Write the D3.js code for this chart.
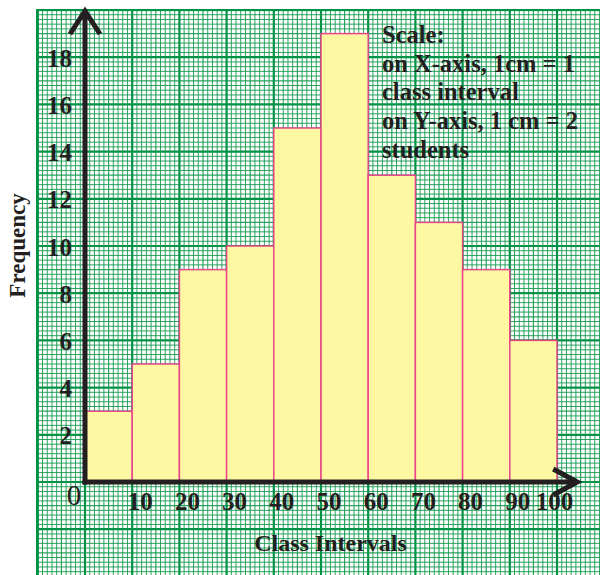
<!DOCTYPE html>
<html>
<head>
<meta charset="utf-8">
<script src="https://cdn.jsdelivr.net/npm/d3@7"></script>
<style>
  html, body { margin: 0; padding: 0; background: #ffffff; }
  svg { display: block; }
  text { font-family: "Liberation Serif", "Times New Roman", serif; fill: #231f20; }
</style>
</head>
<body>
<svg id="chart" width="600" height="575"></svg>
<script>
// ---- data ----
const classStarts = [0, 10, 20, 30, 40, 50, 60, 70, 80, 90];
const classWidth = 10;
const frequencies = [3, 5, 9, 10, 15, 19, 13, 11, 9, 6];
const xTickValues = [10, 20, 30, 40, 50, 60, 70, 80, 90, 100];
const yTickValues = [2, 4, 6, 8, 10, 12, 14, 16, 18];
const scaleNote = ["Scale:", "on X-axis, 1cm = 1", "class interval", "on Y-axis, 1 cm = 2", "students"];
const xTitle = "Class Intervals";
const yTitle = "Frequency";

// ---- setup ----
const svg = d3.select("#chart");
const x = d3.scaleLinear().domain([0, 100]).range([85, 557]);
const y = d3.scaleLinear().domain([0, 20]).range([482, 10]);

// ---- graph paper ----
const paper = { x0: 36, y0: 9, x1: 600, y1: 575 };
svg.append("clipPath").attr("id", "paperClip")
  .append("rect").attr("x", paper.x0).attr("y", paper.y0)
  .attr("width", paper.x1 - paper.x0).attr("height", paper.y1 - paper.y0);
const grid = svg.append("g").attr("clip-path", "url(#paperClip)");
grid.append("rect").attr("x", paper.x0).attr("y", paper.y0)
  .attr("width", paper.x1 - paper.x0).attr("height", paper.y1 - paper.y0).attr("fill", "#ffffff");

const minorX = d3.range(-10, 112, 1);
const minorY = d3.range(-25, 101, 1).map(i => i / 5);
grid.selectAll("line.mx").data(minorX.filter(v => v % 10 !== 0)).join("line")
  .attr("x1", d => x(d)).attr("x2", d => x(d)).attr("y1", paper.y0).attr("y2", paper.y1)
  .attr("stroke", "#159a4f").attr("stroke-width", d => (d % 5 === 0 ? 1.2 : 1.0)).attr("stroke-opacity", 0.9);
grid.selectAll("line.my").data(minorY.filter((v, i) => Math.round(v * 5) % 10 !== 0)).join("line")
  .attr("y1", d => y(d)).attr("y2", d => y(d)).attr("x1", paper.x0).attr("x2", paper.x1)
  .attr("stroke", "#159a4f").attr("stroke-width", d => (Math.round(d * 5) % 5 === 0 ? 1.2 : 1.0)).attr("stroke-opacity", 0.9);
grid.selectAll("line.MX").data(minorX.filter(v => v % 10 === 0)).join("line")
  .attr("x1", d => x(d)).attr("x2", d => x(d)).attr("y1", paper.y0).attr("y2", paper.y1)
  .attr("stroke", "#009245").attr("stroke-width", 2.2);
grid.selectAll("line.MY").data(minorY.filter(v => Math.round(v * 5) % 10 === 0)).join("line")
  .attr("y1", d => y(d)).attr("y2", d => y(d)).attr("x1", paper.x0).attr("x2", paper.x1)
  .attr("stroke", "#009245").attr("stroke-width", 2.2);
// border
grid.append("rect").attr("x", paper.x0 + 1).attr("y", paper.y0 + 1)
  .attr("width", paper.x1 - paper.x0 + 5).attr("height", paper.y1 - paper.y0 + 5)
  .attr("fill", "none").attr("stroke", "#009245").attr("stroke-width", 2.2);

// ---- histogram bars ----
svg.append("g").selectAll("rect").data(classStarts).join("rect")
  .attr("x", d => x(d)).attr("width", d => x(d + classWidth) - x(d))
  .attr("y", (d, i) => y(frequencies[i])).attr("height", (d, i) => y(0) - y(frequencies[i]))
  .attr("fill", "#fff8a2").attr("stroke", "#e8458b").attr("stroke-width", 1.5);

// ---- axes lines with arrows ----
const ink = "#231f20";
svg.append("line").attr("x1", x(0)).attr("x2", x(0)).attr("y1", y(0) + 2.5).attr("y2", y(20) + 3)
  .attr("stroke", ink).attr("stroke-width", 5);
svg.append("path").attr("d", `M${x(0) - 15},${y(20) + 24} L${x(0)},${y(20) + 1} L${x(0) + 15},${y(20) + 24}`)
  .attr("fill", "none").attr("stroke", ink).attr("stroke-width", 5).attr("stroke-linejoin", "miter");
svg.append("line").attr("x1", x(0) - 2.5).attr("x2", x(104.5) - 3).attr("y1", y(0)).attr("y2", y(0))
  .attr("stroke", ink).attr("stroke-width", 5);
svg.append("path").attr("d", `M${x(104.5) - 25},${y(0) - 13} L${x(104.5) - 1},${y(0)} L${x(104.5) - 25},${y(0) + 13}`)
  .attr("fill", "none").attr("stroke", ink).attr("stroke-width", 5).attr("stroke-linejoin", "miter");

// ---- tick labels via d3 axes ----
const yAxis = svg.append("g").attr("transform", `translate(${x(0)},0)`)
  .call(d3.axisLeft(y).tickValues(yTickValues).tickSize(0).tickPadding(13).tickFormat(d3.format("d")));
yAxis.select(".domain").remove();
yAxis.selectAll("text").attr("dy", "0.36em")
  .style("font-family", '"Liberation Serif", serif').style("font-weight", "bold")
  .style("font-size", "25px").attr("fill", ink);

const xAxis = svg.append("g").attr("transform", `translate(0,${y(0)})`)
  .call(d3.axisBottom(x).tickValues(xTickValues).tickSize(0).tickPadding(0).tickFormat(d3.format("d")));
xAxis.select(".domain").remove();
xAxis.selectAll("text")
  .attr("text-anchor", d => (d === 100 ? "middle" : "start"))
  .attr("x", d => (d === 100 ? -3 : -5))
  .attr("y", 28).attr("dy", 0)
  .style("font-family", '"Liberation Serif", serif').style("font-weight", "bold")
  .style("font-size", "25px").attr("fill", ink);

svg.append("text").attr("x", x(0) - 11).attr("y", y(0) + 23).attr("text-anchor", "middle")
  .style("font-size", "29px").text("0");

// ---- titles ----
svg.append("text").attr("x", 330.5).attr("y", 551).attr("text-anchor", "middle")
  .style("font-size", "24px").style("font-weight", "bold").text(xTitle);
svg.append("text").attr("transform", "translate(25,245.5) rotate(-90)").attr("text-anchor", "middle")
  .style("font-size", "23px").style("font-weight", "bold").text(yTitle);

// ---- scale note ----
svg.append("g").selectAll("text").data(scaleNote).join("text")
  .attr("x", 382).attr("y", (d, i) => 43 + i * 28.7)
  .style("font-size", "24.5px").style("font-weight", "bold").text(d => d);
</script>
</body>
</html>
